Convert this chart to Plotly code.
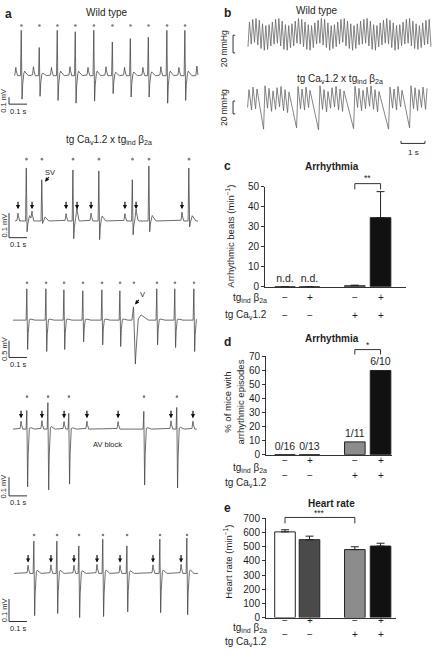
import numpy as np
import plotly.graph_objects as go

W, H = 432, 655
FONT = "Liberation Sans, Arial, sans-serif"
INK = "#1e1e1e"

# ======================= DATA =======================
# ---- Panel a: ECG traces (time in s, amplitude in mV) ----
# 1) Wild type
a1_beat_t = [0.119, 0.219, 0.319, 0.419, 0.522, 0.625, 0.725, 0.825, 0.928, 1.028]
a1_r = [0.66, 0.41, 0.66, 0.64, 0.66, 0.49, 0.54, 0.56, 0.66, 0.66]
a1_s = [-0.34, -0.30, -0.36, -0.40, -0.37, -0.26, -0.31, -0.31, -0.40, -0.36]
a1_p_t = [0.088, 0.186, 0.286, 0.389, 0.489, 0.589, 0.692, 0.794, 0.894, 0.994, 1.094]
a1_p = [0.12, 0.13, 0.12, 0.13, 0.12, 0.13, 0.12, 0.12, 0.13, 0.12, 0.14]
# 2) tg CaV1.2 x tgind b2a - supraventricular beat (SV)
a2_beat_t = [0.147, 0.233, 0.406, 0.550, 0.736, 0.828, 1.050]
a2_r = [0.216, 0.168, 0.208, 0.204, 0.168, 0.224, 0.216]
a2_s = [-0.044, -0.010, -0.072, -0.076, -0.056, -0.044, -0.024]
a2_p_t = [0.100, 0.178, 0.367, 0.428, 0.506, 0.694, 0.756, 1.011]
a2_p = [0.032, 0.036, 0.030, 0.038, 0.032, 0.030, 0.034, 0.036]
# 3) ventricular beat (V)
a3_beat_t = [0.150, 0.256, 0.356, 0.461, 0.567, 0.667, 0.744, 0.872, 0.972, 1.078]
a3_r = [0.94, 0.94, 0.91, 0.88, 0.91, 0.88, 0.41, 0.94, 0.94, 0.94]
a3_s = [-0.88, -0.94, -0.88, -0.65, -0.74, -0.79, -1.35, -0.74, -0.82, -0.94]
a3_post = [0.04, 0.04, 0.04, 0.04, 0.04, 0.04, 0.16, 0.04, 0.04, 0.04]
a3_widen = [1, 1, 1, 1, 1, 1, 2.2, 1, 1, 1]
# 4) AV block
a4_beat_t = [0.150, 0.267, 0.383, 0.800, 0.983]
a4_r = [0.100, 0.142, 0.084, 0.095, 0.116]
a4_s = [-0.310, -0.326, -0.295, -0.300, -0.316]
a4_p_t = [0.117, 0.233, 0.356, 0.483, 0.656, 0.950, 1.072]
a4_p = [0.042, 0.045, 0.040, 0.042, 0.040, 0.044, 0.042]
# 5) P waves preceding each QRS
a5_beat_t = [0.189, 0.317, 0.439, 0.572, 0.706, 0.889, 1.039]
a5_r = [0.143, 0.143, 0.122, 0.152, 0.122, 0.152, 0.157]
a5_s = [-0.187, -0.178, -0.196, -0.191, -0.170, -0.174, -0.183]
a5_p_t = [0.156, 0.283, 0.411, 0.539, 0.667, 0.850, 1.006]
a5_p = [0.036, 0.038, 0.036, 0.040, 0.036, 0.038, 0.040]

# ---- Panel b: blood pressure (mmHg) ----
wt_sys = [113, 116, 117, 115, 111, 109, 110, 113, 116, 117,
          114, 110, 109, 111, 114, 117, 116, 113, 110, 109,
          112, 115, 117, 116, 112, 109, 110, 113, 116, 117,
          114, 111, 109, 111, 114, 116, 117, 114, 110, 109,
          112, 115, 117, 115, 112, 109, 110, 113, 116, 117,
          114, 111, 109, 112, 115, 116]
wt_dia = [85, 88, 90, 87, 83, 81, 82, 86, 88, 89,
          86, 82, 81, 84, 86, 89, 88, 85, 82, 81,
          84, 88, 89, 87, 84, 81, 83, 85, 88, 90,
          86, 83, 81, 83, 87, 88, 89, 86, 82, 81,
          85, 87, 89, 88, 84, 81, 82, 86, 88, 89,
          86, 83, 82, 84, 87, 88]
tg_peak_t = [0.875, 1.042, 1.208,
             1.542, 1.708, 1.875, 2.042, 2.208, 2.375, 2.542,
             2.917, 3.083, 3.250, 3.417,
             3.833, 4.000, 4.167, 4.333, 4.500, 4.667, 4.833,
             5.292, 5.458, 5.625, 5.792, 5.958, 6.125, 6.292,
             6.750, 6.917, 7.083, 7.250,
             7.625, 7.792, 7.958, 8.125, 8.292]
tg_sys = [112, 116, 113,
          118, 114, 110, 115, 117, 112, 108,
          117, 113, 116, 111,
          118, 112, 109, 115, 117, 113, 110,
          117, 114, 111, 116, 118, 112, 109,
          116, 113, 117, 111,
          118, 115, 112, 116, 114]
tg_dia = [84, 80, 82,
          50, 83, 78, 81, 85, 79, 76,
          52, 82, 80, 84,
          49, 81, 77, 83, 85, 80, 78,
          51, 84, 79, 82, 86, 81, 77,
          50, 83, 80, 85,
          52, 82, 79, 84, 81]

# ---- Panels c-e: bar charts ----
groups_beta = ["\u2212", "+", "\u2212", "+"]
groups_cav = ["\u2212", "\u2212", "+", "+"]
bar_colors = ["#ffffff", "#4a4a4a", "#8c8c8c", "#111111"]
c_values = [0, 0, 0.5, 34.5]          # arrhythmic beats (min-1)
c_sem = [0, 0, 0.3, 13.0]
c_text = ["n.d.", "n.d.", "", ""]
d_affected = [0, 0, 1, 6]             # mice with arrhythmic episodes
d_total = [16, 13, 11, 10]
e_values = [605, 550, 480, 505]       # heart rate (min-1)
e_sem = [15, 25, 20, 20]

# ======================= LAYOUT HELPERS =======================
def px_x(p):
    return p / W

def px_y(p):
    return 1 - p / H

def aref(i, a):
    return a if i == 1 else f"{a}{i}"

def akey(i, a):
    return f"{a}axis" if i == 1 else f"{a}axis{i}"

layout = dict(width=W, height=H, margin=dict(l=0, r=0, t=0, b=0),
              paper_bgcolor="white", plot_bgcolor="rgba(0,0,0,0)",
              showlegend=False, font=dict(family=FONT, color=INK, size=10))
annotations, shapes = [], []
fig = go.Figure()

def txt(x, y, s, size=10, bold=False, xanchor="center", angle=0, xref="paper", yref="paper",
        xshift=0, yshift=0, yanchor="middle"):
    if bold:
        s = f"<b>{s}</b>"
    annotations.append(dict(x=x, y=y, xref=xref, yref=yref, text=s, showarrow=False,
                            font=dict(size=size, family=FONT, color=INK), xanchor=xanchor,
                            yanchor=yanchor, textangle=angle, xshift=xshift, yshift=yshift))

# ======================= PANEL a: ECG =======================
QRS_OFF = np.array([-0.005, -0.001, 0.0035, 0.009, 0.018, 0.034])
P_OFF = np.array([-0.006, 0.0, 0.006])

def ecg_curve(t0, t1, beat_t, r, s, p_t, p_a, post=None, widen=None):
    t = np.arange(t0, t1, 0.0005)
    y = np.zeros_like(t)
    for i, bt in enumerate(beat_t):
        k = widen[i] if widen else 1.0
        j = post[i] if post else 0.1 * r[i]
        y += np.interp(t, bt + QRS_OFF * k, [0, r[i], s[i], 0, j, 0], left=0, right=0)
    for pt, pa in zip(p_t, p_a):
        y += np.interp(t, pt + P_OFF, [0, pa, 0], left=0, right=0)
    return t, y

ecg_sets = [
    dict(beat=a1_beat_t, r=a1_r, s=a1_s, pt=a1_p_t, pa=a1_p, span=(0.078, 1.10), arrows=False),
    dict(beat=a2_beat_t, r=a2_r, s=a2_s, pt=a2_p_t, pa=a2_p, span=(0.083, 1.10), arrows=True),
    dict(beat=a3_beat_t, r=a3_r, s=a3_s, pt=[], pa=[], span=(0.072, 1.094), arrows=False,
         post=a3_post, widen=a3_widen),
    dict(beat=a4_beat_t, r=a4_r, s=a4_s, pt=a4_p_t, pa=a4_p, span=(0.072, 1.094), arrows=True),
    dict(beat=a5_beat_t, r=a5_r, s=a5_s, pt=a5_p_t, pa=a5_p, span=(0.078, 1.10), arrows=True),
]
# layout of each ECG row (pixel band, baseline, pixel per mV, marker rows, scale bar)
ecg_rows = [
    dict(top=12, bottom=104, base=71, ppm=70, dot=0.73, arrow=None, bar_mv=0.1, bar_lo=-0.414, label="0.1 mV"),
    dict(top=148, bottom=246, base=219, ppm=250, dot=0.252, arrow=0.048, bar_mv=0.1, bar_lo=-0.068, label="0.1 mV"),
    dict(top=278, bottom=372, base=320, ppm=34, dot=1.12, arrow=None, bar_mv=0.5, bar_lo=-1.118, label="0.5 mV"),
    dict(top=394, bottom=508, base=431, ppm=190, dot=0.174, arrow=0.058, bar_mv=0.1, bar_lo=-0.358, label="0.1 mV"),
    dict(top=534, bottom=640, base=578, ppm=230, dot=0.17, arrow=0.048, bar_mv=0.1, bar_lo=-0.213, label="0.1 mV"),
]
ECG_PX_PER_S = 180.0
for k, (d, row) in enumerate(zip(ecg_sets, ecg_rows), start=1):
    xr, yr = aref(k, "x"), aref(k, "y")
    layout[akey(k, "x")] = dict(domain=[0, px_x(216)], range=[0, 216 / ECG_PX_PER_S],
                                visible=False, anchor=yr, fixedrange=True)
    layout[akey(k, "y")] = dict(domain=[px_y(row["bottom"]), px_y(row["top"])],
                                range=[-(row["bottom"] - row["base"]) / row["ppm"],
                                       (row["base"] - row["top"]) / row["ppm"]],
                                visible=False, anchor=xr, fixedrange=True)
    t, y = ecg_curve(d["span"][0], d["span"][1], d["beat"], d["r"], d["s"], d["pt"], d["pa"],
                     d.get("post"), d.get("widen"))
    fig.add_trace(go.Scatter(x=t, y=y, mode="lines", line=dict(color="#464646", width=0.8),
                             xaxis=xr, yaxis=yr, hoverinfo="skip"))
    fig.add_trace(go.Scatter(x=d["beat"], y=[row["dot"]] * len(d["beat"]), mode="markers",
                             marker=dict(size=2.6, color="#808080"), xaxis=xr, yaxis=yr,
                             hoverinfo="skip"))
    if d["arrows"]:
        for pt in d["pt"]:
            annotations.append(dict(x=pt, y=row["arrow"], xref=xr, yref=yr, ax=0, ay=-9,
                                    axref="pixel", ayref="pixel", text="", showarrow=True,
                                    arrowhead=2, arrowsize=0.7, arrowwidth=1.2, arrowcolor="#111"))
    # scale bar
    x0 = 0.05
    shapes.append(dict(type="path", xref=xr, yref=yr,
                       path=f"M {x0},{row['bar_lo'] + row['bar_mv']} L {x0},{row['bar_lo']} L {x0 + 0.1},{row['bar_lo']}",
                       line=dict(color="#333", width=1)))
    txt(x0, row["bar_lo"] + row["bar_mv"] / 2, row["label"], size=7.5, angle=-90,
        xref=xr, yref=yr, xshift=-5)
    txt(x0 + 0.05, row["bar_lo"], "0.1 s", size=7.5, xref=xr, yref=yr, yshift=-7)

# SV / V labels and AV block
annotations.append(dict(x=45 / ECG_PX_PER_S, y=0.16, xref="x2", yref="y2", ax=5, ay=-6,
                        axref="pixel", ayref="pixel", text="", showarrow=True, arrowhead=2,
                        arrowsize=0.7, arrowwidth=1.2, arrowcolor="#111"))
txt(50 / ECG_PX_PER_S, 0.196, "SV", size=7.5, xref="x2", yref="y2")
annotations.append(dict(x=135 / ECG_PX_PER_S, y=0.47, xref="x3", yref="y3", ax=5, ay=-6,
                        axref="pixel", ayref="pixel", text="", showarrow=True, arrowhead=2,
                        arrowsize=0.7, arrowwidth=1.2, arrowcolor="#111"))
txt(142 / ECG_PX_PER_S, 0.765, "V", size=7.5, xref="x3", yref="y3")
txt(107 / ECG_PX_PER_S, -0.084, "AV block", size=7.5, xref="x4", yref="y4")

txt(px_x(3), px_y(8), "a", size=12, bold=True, xanchor="left")
txt(px_x(107), px_y(7), "Wild type", size=10)
TG_TITLE = "tg Ca<sub>v</sub>1.2 x tg<sub>ind</sub> \u03b2<sub>2a</sub>"
txt(px_x(109), px_y(137), TG_TITLE, size=10)

# ======================= PANEL b: blood pressure =======================
BP_X0_PX, BP_PX_PER_S = 228, 24.0
bp_range = [0, (W - BP_X0_PX) / BP_PX_PER_S]
for k, (top, bottom, ref_px, ref_mm, ppmm) in zip((6, 7), ((6, 54, 10, 120, 0.9), (76, 146, 80, 120, 0.65))):
    layout[akey(k, "x")] = dict(domain=[px_x(BP_X0_PX), 1], range=bp_range, visible=False,
                                anchor=aref(k, "y"), fixedrange=True)
    layout[akey(k, "y")] = dict(domain=[px_y(bottom), px_y(top)],
                                range=[ref_mm - (bottom - ref_px) / ppmm, ref_mm + (ref_px - top) / ppmm],
                                visible=False, anchor=aref(k, "x"), fixedrange=True)

# wild type: regular beats across the sweep
wt_t0, wt_t1 = 0.833, 8.458
period = (wt_t1 - wt_t0) / len(wt_sys)
bx, by = [], []
for i, (sy, di) in enumerate(zip(wt_sys, wt_dia)):
    tb = wt_t0 + i * period
    bx += [tb, tb + 0.45 * period]
    by += [di, sy]
bx.append(wt_t1)
by.append(wt_dia[0])
fig.add_trace(go.Scatter(x=bx, y=by, mode="lines", line=dict(color="#666666", width=0.8),
                         xaxis="x6", yaxis="y6", hoverinfo="skip"))
# transgenic: irregular beats with pauses
RISE = 0.06
tx, ty = [], []
for pt, sy, di in zip(tg_peak_t, tg_sys, tg_dia):
    tx += [pt - RISE, pt]
    ty += [di, sy]
fig.add_trace(go.Scatter(x=tx, y=ty, mode="lines", line=dict(color="#666666", width=0.8),
                         xaxis="x7", yaxis="y7", hoverinfo="skip"))

# 20 mmHg brackets
for xr, yr, lo, lab_y in (("x6", "y6", 78, 44), ("x7", "y7", 74, 104)):
    bxp = 0.21
    shapes.append(dict(type="path", xref=xr, yref=yr,
                       path=f"M {bxp + 0.09},{lo + 20} L {bxp},{lo + 20} L {bxp},{lo} L {bxp + 0.09},{lo}",
                       line=dict(color="#333", width=1)))
    txt(px_x(224), px_y(lab_y), "20 mmHg", size=8.5, angle=-90)
# 1 s bar
sb_x0, sb_y = 7.208, 27.7
shapes.append(dict(type="path", xref="x7", yref="y7",
                   path=f"M {sb_x0},{sb_y + 4} L {sb_x0},{sb_y} L {sb_x0 + 1},{sb_y} L {sb_x0 + 1},{sb_y + 4}",
                   line=dict(color="#333", width=1)))
txt(px_x(413), px_y(149), "1 s", size=8)
txt(px_x(222), px_y(7), "b", size=12, bold=True, xanchor="left")
txt(px_x(317), px_y(5), "Wild type", size=10)
txt(px_x(340), px_y(74), TG_TITLE, size=10)

# ======================= PANELS c-e: bars =======================
CAT_X = [0, 1, 2.85, 3.9]
UNIT_PX, CAT0_PX = 24.5, 285
bar_panels = [
    dict(k=8, x_px=(265, 406), y_px=(184, 286), yr=(0, 50), dtick=10),
    dict(k=9, x_px=(266, 392), y_px=(357, 457), yr=(0, 70), dtick=10),
    dict(k=10, x_px=(266, 396), y_px=(522, 623), yr=(0, 700), dtick=100),
]
for p in bar_panels:
    k = p["k"]
    p["xrange"] = [(p["x_px"][0] - CAT0_PX) / UNIT_PX, (p["x_px"][1] - CAT0_PX) / UNIT_PX]
    p["xdom"] = [px_x(p["x_px"][0]), px_x(p["x_px"][1])]
    p["ydom"] = [px_y(p["y_px"][1]), px_y(p["y_px"][0])]
    layout[akey(k, "x")] = dict(domain=p["xdom"], range=p["xrange"], showline=True,
                                linecolor="#333", linewidth=1, ticks="", showticklabels=False,
                                showgrid=False, zeroline=False, anchor=aref(k, "y"), fixedrange=True)
    layout[akey(k, "y")] = dict(domain=p["ydom"], range=list(p["yr"]), showline=True,
                                linecolor="#333", linewidth=1, ticks="outside", ticklen=3,
                                tickwidth=1, tickcolor="#333", dtick=p["dtick"], showgrid=False,
                                zeroline=False, tickfont=dict(size=10, family=FONT, color=INK),
                                anchor=aref(k, "x"), fixedrange=True)

def pxp(p, v):
    r0, r1 = p["xrange"]
    return p["xdom"][0] + (v - r0) / (r1 - r0) * (p["xdom"][1] - p["xdom"][0])

def pyp(p, v):
    r0, r1 = p["yr"]
    return p["ydom"][0] + (v - r0) / (r1 - r0) * (p["ydom"][1] - p["ydom"][0])

def bar_trace(p, vals, err=None, text=None):
    k = p["k"]
    kw = {}
    if err is not None:
        kw["error_y"] = dict(type="data", symmetric=False, array=err, arrayminus=[0] * len(err),
                             color="#222", thickness=1, width=4)
    fig.add_trace(go.Bar(x=CAT_X, y=vals, width=0.84,
                         marker=dict(color=bar_colors, line=dict(color="#222", width=1)),
                         text=text, textposition="outside", cliponaxis=False, constraintext="none",
                         textfont=dict(size=10.5, family=FONT, color=INK),
                         xaxis=aref(k, "x"), yaxis=aref(k, "y"), hoverinfo="skip", **kw))

def bracket(p, i0, i1, v, leg_v, stars, star_v):
    x0, x1 = pxp(p, CAT_X[i0]), pxp(p, CAT_X[i1])
    y, yl = pyp(p, v), pyp(p, leg_v)
    shapes.append(dict(type="path", xref="paper", yref="paper",
                       path=f"M {x0},{yl} L {x0},{y} L {x1},{y} L {x1},{yl}",
                       line=dict(color="#333", width=1)))
    txt((x0 + x1) / 2, pyp(p, star_v), stars, size=8.5)

def group_rows(p, y1_px, y2_px):
    k = p["k"]
    for cx, sb, sc in zip(CAT_X, groups_beta, groups_cav):
        annotations.append(dict(x=cx, y=px_y(y1_px), xref=aref(k, "x"), yref="paper", text=sb,
                                showarrow=False, font=dict(size=10, family=FONT, color=INK)))
        annotations.append(dict(x=cx, y=px_y(y2_px), xref=aref(k, "x"), yref="paper", text=sc,
                                showarrow=False, font=dict(size=10, family=FONT, color=INK)))
    txt(px_x(269), px_y(y1_px), "tg<sub>ind</sub> \u03b2<sub>2a</sub>", size=10, xanchor="right")
    txt(px_x(269), px_y(y2_px), "tg Ca<sub>v</sub>1.2", size=10, xanchor="right")

pc, pd_, pe = bar_panels
# c
bar_trace(pc, c_values, c_sem, c_text)
bracket(pc, 2, 3, 51.5, 48.6, "**", 54.2)
group_rows(pc, 297, 315)
txt(px_x(222), px_y(163), "c", size=12, bold=True, xanchor="left")
txt(px_x(332), px_y(163), "Arrhythmia", size=10, bold=True)
txt(px_x(230), px_y(235), "Arrhythmic beats (min<sup>\u22121</sup>)", size=9.5, angle=-90)
# d
d_values = [100.0 * a / n for a, n in zip(d_affected, d_total)]
d_text = [f"{a}/{n}" for a, n in zip(d_affected, d_total)]
bar_trace(pd_, d_values, None, d_text)
bracket(pd_, 2, 3, 74.9, 71.4, "*", 78.2)
group_rows(pd_, 471, 486)
txt(px_x(222), px_y(342), "d", size=12, bold=True, xanchor="left")
txt(px_x(332), px_y(339), "Arrhythmia", size=10, bold=True)
txt(px_x(234), px_y(403), "% of mice with<br>arrhythmic episodes", size=9.5, angle=-90)
# e
bar_trace(pe, e_values, e_sem, None)
bracket(pe, 0, 2, 707, 665, "***", 737)
group_rows(pe, 634, 648)
txt(px_x(222), px_y(511), "e", size=12, bold=True, xanchor="left")
txt(px_x(331), px_y(507), "Heart rate", size=10, bold=True)
txt(px_x(228), px_y(566), "Heart rate (min<sup>\u22121</sup>)", size=9.5, angle=-90)

layout["annotations"] = annotations
layout["shapes"] = shapes
fig.update_layout(**layout)
fig.write_html("out.html", config={"displayModeBar": False, "staticPlot": True},
               post_script="document.body.style.margin='0';document.body.style.overflow='hidden';")
